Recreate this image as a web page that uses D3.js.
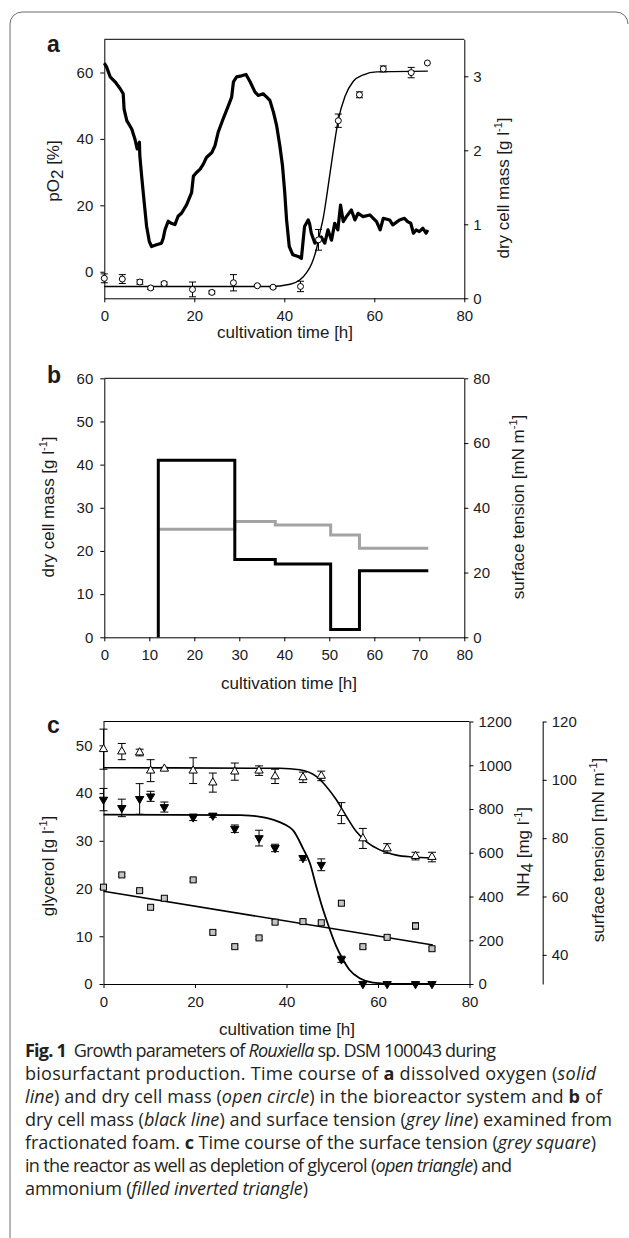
<!DOCTYPE html>
<html>
<head>
<meta charset="utf-8">
<script src="https://cdn.jsdelivr.net/npm/d3@7"></script>
<style>
  body { margin: 0; background: #fff; }
</style>
</head>
<body>
<script>
// ---- data ----
// sampling times shared by panel a and c (h)
const sampleTimes = [0, 4, 7.9, 10.3, 13.3, 19.6, 23.9, 28.7, 34, 37.5, 43.6, 47.6, 52, 56.7, 62, 68.2, 71.8];

// panel a: dissolved oxygen pO2 [%] (time, value)
const pO2Trace = [[0,62.8],[0.5,61.7],[1.3,58.7],[2.4,57.2],[3.5,55.2],[4.2,53.6],[4.4,49],[5,45.5],[6.1,43],[6.8,40],[7.3,37],[7.8,39],[7.9,34.9],[8.3,28.8],[8.8,21.8],[9.4,13.7],[10,9.1],[10.5,7.6],[11.6,8.1],[12.7,8.6],[13.1,10.1],[13.5,12.7],[14.2,15.2],[15,14.5],[15.7,14.2],[16.4,16.7],[17.2,17.7],[18.3,20.2],[19.4,23.8],[19.8,28.8],[20.5,29.9],[21.3,30.9],[22,32.4],[22.7,34.4],[23.9,35.9],[24.6,38],[25.3,42],[26.4,46],[27.6,50.1],[28.3,52.6],[28.7,57.2],[29.4,58.7],[30.5,59],[31.5,59.4],[32.4,57.2],[33.5,54.1],[34.2,53.1],[35.3,53.6],[36.1,52.6],[36.8,51.6],[37.6,48],[38.3,44],[39,38],[39.6,31.9],[40.1,23.8],[40.5,15.7],[41.1,7.6],[41.9,5.1],[43.1,4.6],[43.8,4.0],[44.2,9.5],[44.5,13.6],[45.3,15.6],[45.6,14.6],[46,11.6],[46.8,8.6],[47.5,9.5],[48.2,10.5],[49,8.6],[49.7,12.6],[50.5,9.5],[51.2,14.6],[51.9,12.6],[52.5,20.1],[53.1,15.1],[53.8,16.6],[54.9,18.6],[55.7,15.6],[56.4,17.6],[57.5,16.6],[59,17.1],[60.5,15.1],[61.3,12.6],[62,16.1],[63.4,15.6],[64.1,14.1],[64.8,14.8],[65.6,15.6],[66.7,16.1],[67.4,15.1],[68.1,14.6],[68.7,11.6],[69.3,12.6],[70,12.1],[70.8,13.1],[71.5,11.6],[71.9,12.6]];
// panel a: dry cell mass [g/l] at sampleTimes, with error
const dcmValues = [0.27,0.26,0.22,0.14,0.2,0.12,0.08,0.21,0.17,0.15,0.16,0.79,2.40,2.75,3.10,3.05,3.18];
const dcmErrors = [0.06,0.06,0.03,0.02,0.02,0.1,0.02,0.11,0.01,0.01,0.07,0.14,0.09,0.04,0.04,0.07,0];
const dcmFit = [[0,0.16],[36.8,0.16],[41.3,0.19],[43.5,0.25],[45,0.35],[46.1,0.47],[47.2,0.68],[47.9,0.88],[48.7,1.10],[49.4,1.37],[50.9,2.0],[52,2.41],[53.5,2.73],[55.3,2.93],[57.6,3.02],[60.5,3.06],[71.9,3.07]];

// panel b: fractionated foam, step boundaries (h)
const foamTimes = [12, 29, 38, 50.3, 56.7, 72];
const foamDcm = [41, 18, 17, 1.8, 15.4];
const foamTension = [33.4, 35.8, 34.7, 31.6, 27.5];

// panel c: at sampleTimes
const glycerol = [49.2,48.7,48.5,44.7,45.1,44.7,42.2,44.5,44.7,43.5,43.3,43.6,35.8,30.5,28.4,26.8,26.6];
const glycerolErr = [4.2,1.7,0.7,2.3,0.3,2.7,2.0,1.8,1.0,1.5,1.1,1.0,2.2,2.1,1.0,0.8,1.0];
const ammonium = [843,805,846,858,809,762,770,710,667,622,576,545,113,0,0,0,0];
const ammoniumErr = [51,40,70,23,23,15,8,17,36,17,10,27,14,0,0,0,0];
const tension = [63.2,67.4,62.0,56.3,59.4,65.7,47.7,42.8,45.8,51.2,51.4,51.0,57.7,42.8,46.0,49.9,42.1];
const tensionErr = [0.8,0.5,0.5,0.5,0.5,0.5,0.5,0.5,0.5,0.5,0.5,0.5,0.8,0.5,0.5,1.1,0.5];
const glycerolFit = [[0,45.3],[38.5,45.2],[42.9,44.9],[46.5,43.5],[48.7,41.4],[50.9,38.6],[53.1,35.1],[55.3,31.9],[57.5,29.8],[60.4,28.1],[64,27.0],[67.7,26.6],[71.7,26.4]];
const ammoniumFit = [[0,774],[30,772],[32,770],[35.6,759],[38.5,740],[40.7,716],[41.4,703],[43.6,620],[45.1,553],[46.5,446],[48,339],[49.5,247],[50.9,171],[52.4,110],[53.8,64],[56,26],[58.9,6],[62.6,1],[71.7,0]];
const tensionFit = [[0,61.8],[72,43.4]];

const captionLines = [
  [["Fig. 1","b"],["  Growth parameters of ",""],["Rouxiella","i"],[" sp. DSM 100043 during",""]],
  [["biosurfactant production. Time course of ",""],["a","b"],[" dissolved oxygen (",""],["solid","i"]],
  [["line","i"],[") and dry cell mass (",""],["open circle","i"],[") in the bioreactor system and ",""],["b","b"],[" of",""]],
  [["dry cell mass (",""],["black line","i"],[") and surface tension (",""],["grey line","i"],[") examined from",""]],
  [["fractionated foam. ",""],["c","b"],[" Time course of the surface tension (",""],["grey square","i"],[")",""]],
  [["in the reactor as well as depletion of glycerol (",""],["open triangle","i"],[") and",""]],
  [["ammonium (",""],["filled inverted triangle","i"],[")",""]]
];
// line widths of the caption as printed (px)
const captionWidths = [471, 571, 577, 587, 571, 487, 283];

// ---- drawing ----
const FONT = "Liberation Sans, Arial, sans-serif";
const INK = "#1a1a1a";
const svg = d3.select("body").append("svg").attr("width", 629).attr("height", 1238);

// frame
svg.append("path")
  .attr("d", "M10,1238 V24 A12,12 0 0 1 22,12 H616 A12,12 0 0 1 628,24")
  .attr("fill", "none").attr("stroke", "#6d6d6d").attr("stroke-width", 1);

function addAxis(scale, kind, x, y, ticks) {
  let ax = kind === "left" ? d3.axisLeft(scale) : kind === "right" ? d3.axisRight(scale) : d3.axisBottom(scale);
  const pad = kind === "left" ? 7 : kind === "right" ? 5 : 8;
  ax.tickValues(ticks).tickFormat(d3.format("d")).tickSize(4).tickSizeOuter(0).tickPadding(pad);
  const g = svg.append("g").attr("transform", `translate(${x},${y})`).call(ax);
  g.attr("font-size", 15).attr("font-family", FONT);
  g.selectAll("text").attr("fill", INK);
  g.select(".domain").attr("stroke", "#000");
  g.selectAll(".tick line").attr("stroke", "#000");
  return g;
}

function rotTitle(x, y, parts) {
  const t = svg.append("text")
    .attr("transform", `translate(${x},${y}) rotate(-90)`)
    .attr("text-anchor", "middle").attr("dy", "0.35em")
    .attr("font-family", FONT).attr("font-size", 17).attr("fill", INK);
  parts.forEach(([s, k]) => {
    const sp = t.append("tspan").text(s);
    if (k === "sup") sp.attr("font-size", 11).attr("dy", -7);
    if (k === "sub") sp.attr("dy", 4);
    if (k === "back-sup") sp.attr("dy", 7);
    if (k === "back-sub") sp.attr("dy", -4);
  });
}

function xTitle(x, y) {
  svg.append("text").attr("x", x).attr("y", y).attr("text-anchor", "middle")
    .attr("font-family", FONT).attr("font-size", 17).attr("fill", INK)
    .text("cultivation time [h]");
}

function panelLabel(x, y, s) {
  svg.append("text").attr("x", x).attr("y", y)
    .attr("font-family", FONT).attr("font-size", 23).attr("font-weight", "bold")
    .attr("fill", INK).text(s);
}

function errorBars(xs, ys, vals, errs, cap) {
  const g = svg.append("g").attr("stroke", "#000").attr("stroke-width", 1).attr("fill", "none");
  vals.forEach((v, i) => {
    if (!errs[i]) return;
    const x = xs(sampleTimes[i]);
    const y0 = ys(v - errs[i]), y1 = ys(v + errs[i]);
    g.append("line").attr("x1", x).attr("x2", x).attr("y1", y0).attr("y2", y1);
    g.append("line").attr("x1", x - cap).attr("x2", x + cap).attr("y1", y0).attr("y2", y0);
    g.append("line").attr("x1", x - cap).attr("x2", x + cap).attr("y1", y1).attr("y2", y1);
  });
}

// ===== panel a =====
{
  const L = 104.3, R = 464.3, T = 39.3, B = 298.3;
  const x = d3.scaleLinear().domain([0, 80]).range([L, R]);
  const yO = d3.scaleLinear().domain([-8, 70]).range([B, T]);
  const yD = d3.scaleLinear().domain([0, 3.5]).range([B, T]);

  svg.append("line").attr("x1", L).attr("x2", R).attr("y1", T).attr("y2", T).attr("stroke", "#000");
  addAxis(x, "bottom", 0, B, [0, 20, 40, 60, 80]);
  addAxis(yO, "left", L, 0, [0, 20, 40, 60]);
  addAxis(yD, "right", R, 0, [0, 1, 2, 3]);

  svg.append("path").datum(pO2Trace)
    .attr("fill", "none").attr("stroke", "#000").attr("stroke-width", 3.2).attr("stroke-linejoin", "round")
    .attr("d", d3.line().x(d => x(d[0])).y(d => yO(d[1])));

  svg.append("path").datum(dcmFit)
    .attr("fill", "none").attr("stroke", "#000").attr("stroke-width", 1.4)
    .attr("d", d3.line().x(d => x(d[0])).y(d => yD(d[1])).curve(d3.curveMonotoneX));

  errorBars(x, yD, dcmValues, dcmErrors, 3.5);
  svg.append("g").selectAll("circle").data(dcmValues).join("circle")
    .attr("cx", (d, i) => x(sampleTimes[i])).attr("cy", d => yD(d)).attr("r", 3)
    .attr("fill", "#fff").attr("stroke", "#000").attr("stroke-width", 1);

  xTitle(285, 338);
  rotTitle(53, 171, [["pO", ""], ["2", "sub"], [" [%]", "back-sub"]]);
  rotTitle(503, 188, [["dry cell mass [g l", ""], ["-1", "sup"], ["]", "back-sup"]]);
  panelLabel(47, 52, "a");
}

// ===== panel b =====
{
  const L = 104.3, R = 464.3, T = 378.3, B = 637.3;
  const x = d3.scaleLinear().domain([0, 80]).range([L, R]);
  const yD = d3.scaleLinear().domain([0, 60]).range([B, T]);
  const yS = d3.scaleLinear().domain([0, 80]).range([B, T]);

  svg.append("line").attr("x1", L).attr("x2", R).attr("y1", T).attr("y2", T).attr("stroke", "#000");
  addAxis(x, "bottom", 0, B, d3.range(0, 81, 10));
  addAxis(yD, "left", L, 0, d3.range(0, 61, 10));
  addAxis(yS, "right", R, 0, d3.range(0, 81, 20));

  const dcmSteps = [[foamTimes[0], 0]].concat(foamTimes.map((t, i) => [t, foamDcm[Math.min(i, foamDcm.length - 1)]]));
  const tenSteps = foamTimes.map((t, i) => [t, foamTension[Math.min(i, foamTension.length - 1)]]);

  svg.append("path").datum(tenSteps)
    .attr("fill", "none").attr("stroke", "#a3a3a3").attr("stroke-width", 3)
    .attr("d", d3.line().x(d => x(d[0])).y(d => yS(d[1])).curve(d3.curveStepAfter));
  svg.append("path").datum(dcmSteps)
    .attr("fill", "none").attr("stroke", "#000").attr("stroke-width", 3)
    .attr("d", d3.line().x(d => x(d[0])).y(d => yD(d[1])).curve(d3.curveStepAfter));

  xTitle(289, 689);
  rotTitle(48, 507, [["dry cell mass [g l", ""], ["-1", "sup"], ["]", "back-sup"]]);
  rotTitle(518, 507, [["surface tension [mN m", ""], ["-1", "sup"], ["]", "back-sup"]]);
  panelLabel(47, 383, "b");
}

// ===== panel c =====
{
  const L = 103.5, R = 469.5, T = 721.5, B = 984;
  const x = d3.scaleLinear().domain([0, 80]).range([L, R]);
  const yG = d3.scaleLinear().domain([0, 55]).range([B, T]);
  const yN = d3.scaleLinear().domain([0, 1200]).range([B, T]);
  const yS = d3.scaleLinear().domain([30, 120]).range([B, T]);

  svg.append("line").attr("x1", L).attr("x2", R).attr("y1", T).attr("y2", T).attr("stroke", "#000");
  addAxis(x, "bottom", 0, B, [0, 20, 40, 60, 80]);
  addAxis(yG, "left", L, 0, d3.range(0, 51, 10));
  addAxis(yN, "right", R, 0, d3.range(0, 1201, 200));
  addAxis(yS, "right", 542.7, 0, [40, 60, 80, 100, 120]);

  const fitLine = (yScale, curve) => d3.line().x(d => x(d[0])).y(d => yScale(d[1])).curve(curve);
  svg.append("path").datum(glycerolFit).attr("fill", "none").attr("stroke", "#000").attr("stroke-width", 1.6)
    .attr("d", fitLine(yG, d3.curveMonotoneX));
  svg.append("path").datum(ammoniumFit).attr("fill", "none").attr("stroke", "#000").attr("stroke-width", 1.8)
    .attr("d", fitLine(yN, d3.curveMonotoneX));
  svg.append("path").datum(tensionFit).attr("fill", "none").attr("stroke", "#000").attr("stroke-width", 1.6)
    .attr("d", fitLine(yS, d3.curveLinear));

  errorBars(x, yG, glycerol, glycerolErr, 4);
  errorBars(x, yN, ammonium, ammoniumErr, 4);
  errorBars(x, yS, tension, tensionErr, 3.5);

  const tri = d3.symbol().type(d3.symbolTriangle).size(30);
  svg.append("g").selectAll("path").data(glycerol).join("path")
    .attr("d", tri)
    .attr("transform", (d, i) => `translate(${x(sampleTimes[i])},${yG(d)})`)
    .attr("fill", "#fff").attr("stroke", "#000").attr("stroke-width", 1);
  svg.append("g").selectAll("path").data(ammonium).join("path")
    .attr("d", tri)
    .attr("transform", (d, i) => `translate(${x(sampleTimes[i])},${yN(d)}) rotate(180)`)
    .attr("fill", "#000").attr("stroke", "#000").attr("stroke-width", 1);
  svg.append("g").selectAll("rect").data(tension).join("rect")
    .attr("x", (d, i) => x(sampleTimes[i]) - 3).attr("y", d => yS(d) - 3)
    .attr("width", 6).attr("height", 6)
    .attr("fill", "#c4c4c4").attr("stroke", "#000").attr("stroke-width", 1);

  xTitle(287, 1035);
  rotTitle(48, 866, [["glycerol [g l", ""], ["-1", "sup"], ["]", "back-sup"]]);
  rotTitle(523, 852, [["NH", ""], ["4", "sub"], [" [mg l", "back-sub"], ["-1", "sup"], ["]", "back-sup"]]);
  rotTitle(598, 850, [["surface tension [mN m", ""], ["-1", "sup"], ["]", "back-sup"]]);
  panelLabel(47, 733, "c");
}

// ===== caption =====
{
  const capFont = "Open Sans, Noto Sans, sans-serif";
  const texts = captionLines.map((segs, li) => {
    const t = svg.append("text").attr("x", 25).attr("y", 1057 + li * 23)
      .attr("font-family", capFont).attr("font-size", 16).attr("fill", "#231f20")
      .style("white-space", "pre");
    segs.forEach(([s, k]) => {
      const sp = t.append("tspan").text(s);
      if (k === "b") sp.attr("font-weight", "bold");
      if (k === "i") sp.attr("font-style", "italic");
    });
    return t;
  });
  // size the font on the widest line, then tighten spacing so each line ends where it does in print
  const fs = 16 * captionWidths[3] / texts[3].node().getComputedTextLength();
  texts.forEach(t => t.attr("font-size", fs));
  texts.forEach((t, i) => {
    const n = captionLines[i].map(s => s[0]).join("").length;
    const w = t.node().getComputedTextLength();
    t.attr("letter-spacing", ((captionWidths[i] - w) / (n - 1)).toFixed(3));
  });
}
</script>
</body>
</html>
